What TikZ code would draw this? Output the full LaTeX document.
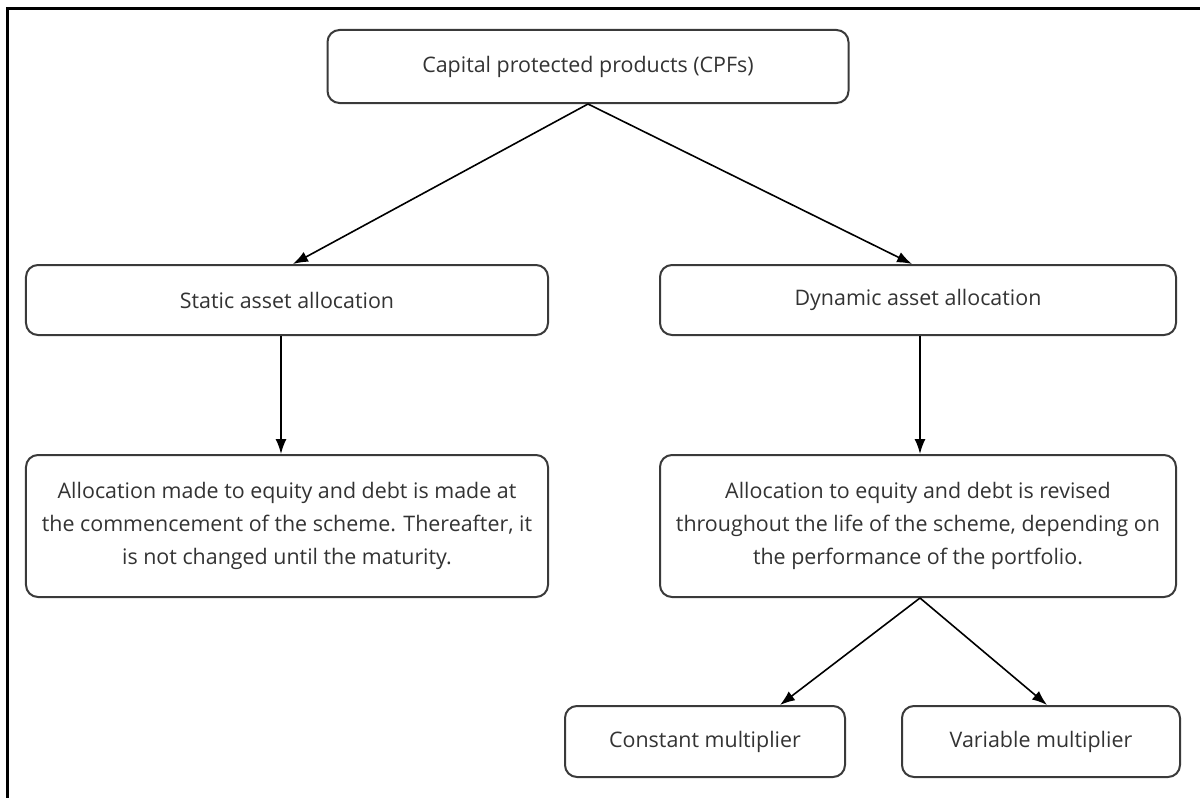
\documentclass[tikz,border=0pt]{standalone}
\usepackage{fontspec}
\setmainfont{Open Sans}
\usetikzlibrary{arrows.meta,positioning}

\definecolor{boxgray}{HTML}{3A3A3A}
\definecolor{txtgray}{HTML}{333333}

\tikzset{
	blk/.style={draw=boxgray, line width=2bp, rounded corners=12bp, align=center,
		text=txtgray, font=\fontsize{21.5}{33.5}\selectfont, inner sep=0pt},
	arr/.style={-{Latex[length=15bp,width=11bp]}, line width=1.6bp}
}

\begin{document}
\begin{tikzpicture}[x=1bp,y=-1bp]
		\useasboundingbox (0,0) rectangle (1200,798);
		% frame
		\draw[line width=3bp] (7,798) -- (7,9) -- (1200,9);
		
		\node[blk, minimum width=521bp, minimum height=73bp] (cpf) at (588,66.5) {Capital protected products (CPFs)};
		\node[blk, minimum width=522bp, minimum height=70bp] (static) at (287,300) {Static asset allocation};
		\node[blk, minimum width=516bp, minimum height=70bp] (dynamic) at (918,300) {Dynamic asset allocation};
		\node[blk, minimum width=522bp, minimum height=142bp] (staticnote) at (287,526) {Allocation made to equity and debt is made at\\the commencement of the scheme. Thereafter, it\\is not changed until the maturity.};
		\node[blk, minimum width=516bp, minimum height=142bp] (dynnote) at (918,526) {Allocation to equity and debt is revised\\throughout the life of the scheme, depending on\\the performance of the portfolio.};
		\node[blk, minimum width=280bp, minimum height=71bp] (constmult) at (705,741.5) {Constant multiplier};
		\node[blk, minimum width=278bp, minimum height=71bp] (varmult) at (1041,741.5) {Variable multiplier};
		
		\draw[arr] (cpf.south) -- ([xshift=6bp]static.north);
		\draw[arr] (cpf.south) -- ([xshift=-6bp]dynamic.north);
		\draw[arr] ([xshift=-6bp]static.south) -- ([xshift=-6bp]staticnote.north);
		\draw[arr] ([xshift=2bp]dynamic.south) -- ([xshift=2bp]dynnote.north);
		\draw[arr] ([xshift=2bp]dynnote.south) -- ([xshift=75bp]constmult.north);
		\draw[arr] ([xshift=2bp]dynnote.south) -- ([xshift=6bp]varmult.north);
	\end{tikzpicture}
\end{document}
